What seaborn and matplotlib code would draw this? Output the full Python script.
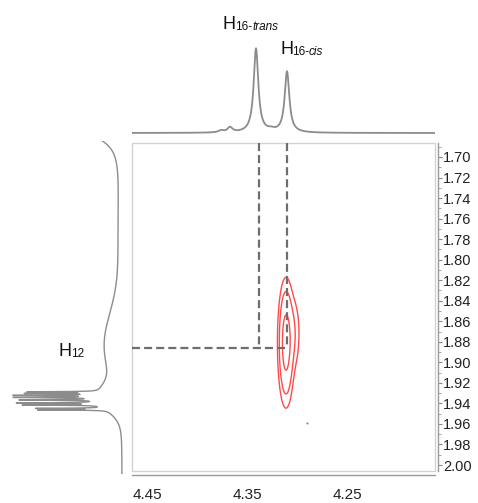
import matplotlib
matplotlib.use("Agg")
import matplotlib.pyplot as plt
import numpy as np
import pandas as pd
import seaborn as sns
from matplotlib.patches import Rectangle
from matplotlib.ticker import FixedLocator, MultipleLocator, FormatStrFormatter

# --- data ----------------------------------------------------------------
# top (F2) projection: Lorentzian lines (ppm, height, half width)
top_ppm = [4.376, 4.367, 4.341, 4.326, 4.310]
top_height = [2.0, 5.0, 84.0, 2.0, 61.0]
top_width = [0.003, 0.003, 0.0028, 0.004, 0.0028]

# left (F1) projection: sharp Lorentzian lines
left_ppm = [1.675, 1.9288, 1.9303, 1.9322, 1.9342, 1.9366, 1.9396, 1.9415, 1.9449, 1.9463]
left_height = [30.0, 68.0, 68.0, 80.0, 80.0, 76.0, 80.0, 76.0, 66.0, 66.0]
left_width = [0.012, 0.0003, 0.0003, 0.00035, 0.00035, 0.00035, 0.00035, 0.00035, 0.0003, 0.0003]
# left projection: broad Gaussian humps
broad_ppm = [1.780, 1.885, 1.935]
broad_height = [3.5, 17.0, 18.0]
broad_sigma = [0.060, 0.033, 0.012]

# cross peak (F2 ppm, F1 ppm, amplitude, sigma F2, sigma F1)
cross_x = [4.311, 4.304]
cross_y = [1.881, 1.872]
cross_amp = [1.0, 0.15]
cross_sx = [0.0035, 0.004]
cross_sy = [0.026, 0.020]
cross_levels = [0.05, 0.16, 0.6]
noise_x = [4.290]
noise_y = [1.959]

# correlation guide lines
trans_ppm = 4.338
cis_ppm = 4.310
h12_ppm = 1.886

x_major = [4.45, 4.35, 4.25]

# --- build traces ----------------------------------------------------------
f2 = np.linspace(4.465, 4.162, 6000)
top_int = np.zeros_like(f2)
for c, h, w in zip(top_ppm, top_height, top_width):
    top_int += h / (1 + ((f2 - c) / w) ** 2)
top_df = pd.DataFrame({"ppm": f2, "intensity": top_int})

f1 = np.linspace(1.6844, 2.0088, 30000)
left_int = np.zeros_like(f1)
for c, h, w in zip(left_ppm, left_height, left_width):
    left_int += h / (1 + ((f1 - c) / w) ** 2)
for c, h, s in zip(broad_ppm, broad_height, broad_sigma):
    left_int += h * np.exp(-0.5 * ((f1 - c) / s) ** 2)
left_df = pd.DataFrame({"ppm": f1, "intensity": left_int})

gx, gy = np.meshgrid(np.linspace(4.27, 4.35, 300), np.linspace(1.78, 1.99, 400))
gz = np.zeros_like(gx)
for x0, y0, a, sx, sy in zip(cross_x, cross_y, cross_amp, cross_sx, cross_sy):
    gz += a * np.exp(-0.5 * (((gx - x0) / sx) ** 2 + ((gy - y0) / sy) ** 2))

# --- figure ------------------------------------------------------------------
sns.set_style("white")
plt.rcParams["font.family"] = ["Liberation Sans", "DejaVu Sans"]
plt.rcParams["lines.scale_dashes"] = False

W, H = 478, 503
fig = plt.figure(figsize=(W / 100, H / 100), dpi=100)


def px_rect(x0, y0, x1, y1):
    return [x0 / W, 1 - y1 / H, (x1 - x0) / W, (y1 - y0) / H]


ax = fig.add_axes(px_rect(132, 143, 435, 471))
ax_top = fig.add_axes(px_rect(132, 0, 435, 140))
ax_left = fig.add_axes(px_rect(0, 141, 130, 474))

spec_col = "#8c8c8c"

# top projection
sns.lineplot(data=top_df, x="ppm", y="intensity", ax=ax_top, color=spec_col,
             lw=1.3, sort=False, estimator=None)
ax_top.set_xlim(4.465, 4.162)
ax_top.set_ylim(-7, 133)
ax_top.axis("off")

# left projection
sns.lineplot(data=left_df, x="intensity", y="ppm", ax=ax_left, color=spec_col,
             lw=1.0, sort=False, estimator=None, orient="y")
ax_left.set_xlim(122, -8)
ax_left.set_ylim(2.0088, 1.6844)
ax_left.axis("off")

# main 2D panel
ax.contour(gx, gy, gz, levels=cross_levels, colors="#ff4a4a", linewidths=1.0)
ax.scatter(noise_x, noise_y, s=2, color="#777777", linewidths=0)

dash = (0, (5.8, 2.9))
ylim = (2.00584, 1.68637)
xlim = (4.465, 4.162)
for xv in (trans_ppm, cis_ppm):
    ax.plot([xv, xv], [ylim[1], h12_ppm], color="#6e6e6e", lw=1.6, ls=dash)
ax.plot([xlim[0], cis_ppm], [h12_ppm, h12_ppm], color="#6e6e6e", lw=1.6, ls=dash)

ax.set_xlim(*xlim)
ax.set_ylim(*ylim)
ax.set_xlabel("")
ax.set_ylabel("")

for s in ("left", "top"):
    ax.spines[s].set_visible(False)
ax.spines["right"].set_position(("outward", 2))
ax.spines["bottom"].set_position(("outward", 3))
for s in ("right", "bottom"):
    ax.spines[s].set_color("#9a9a9a")
    ax.spines[s].set_linewidth(1.0)
ax.add_patch(Rectangle((0, 0), 1, 1, transform=ax.transAxes, fill=False,
                       edgecolor="#d2d2d2", lw=1.0, clip_on=False))

ax.yaxis.tick_right()
ax.yaxis.set_major_locator(MultipleLocator(0.02))
ax.yaxis.set_minor_locator(MultipleLocator(0.01))
ax.yaxis.set_major_formatter(FormatStrFormatter("%.2f"))
ax.xaxis.set_major_locator(FixedLocator(x_major))
ax.xaxis.set_minor_locator(MultipleLocator(0.025))
ax.xaxis.set_major_formatter(FormatStrFormatter("%.2f"))
ax.tick_params(axis="y", which="major", direction="out", length=3, width=0.8,
               color="#8a8a8a", pad=1, labelsize=10.5, labelcolor="#222222")
ax.tick_params(axis="y", which="minor", direction="out", length=2, width=0.6,
               color="#9a9a9a")
ax.tick_params(axis="x", which="both", direction="out", length=3, width=0.8,
               color="#8a8a8a", pad=6, labelsize=11, labelcolor="#222222")

# peak labels
def label(axis, x, y, sub_plain, sub_italic=""):
    t = axis.text(x, y, "H", fontsize=13, ha="left", va="baseline", color="#111111")
    s = axis.annotate(sub_plain, xy=(1, 0), xycoords=t, xytext=(-0.8, 0),
                      textcoords="offset points", fontsize=8.5, va="bottom",
                      color="#111111")
    if sub_italic:
        axis.annotate(sub_italic, xy=(1, 0), xycoords=s, xytext=(0, 0),
                      textcoords="offset points", fontsize=8.5, va="bottom",
                      style="italic", color="#111111")


label(ax_top, 4.374, 104, "16-", "trans")
label(ax_top, 4.317, 79, "16-", "cis")
label(ax_left, 63, 1.8938, "12")

fig.savefig("out.png", dpi=100)
